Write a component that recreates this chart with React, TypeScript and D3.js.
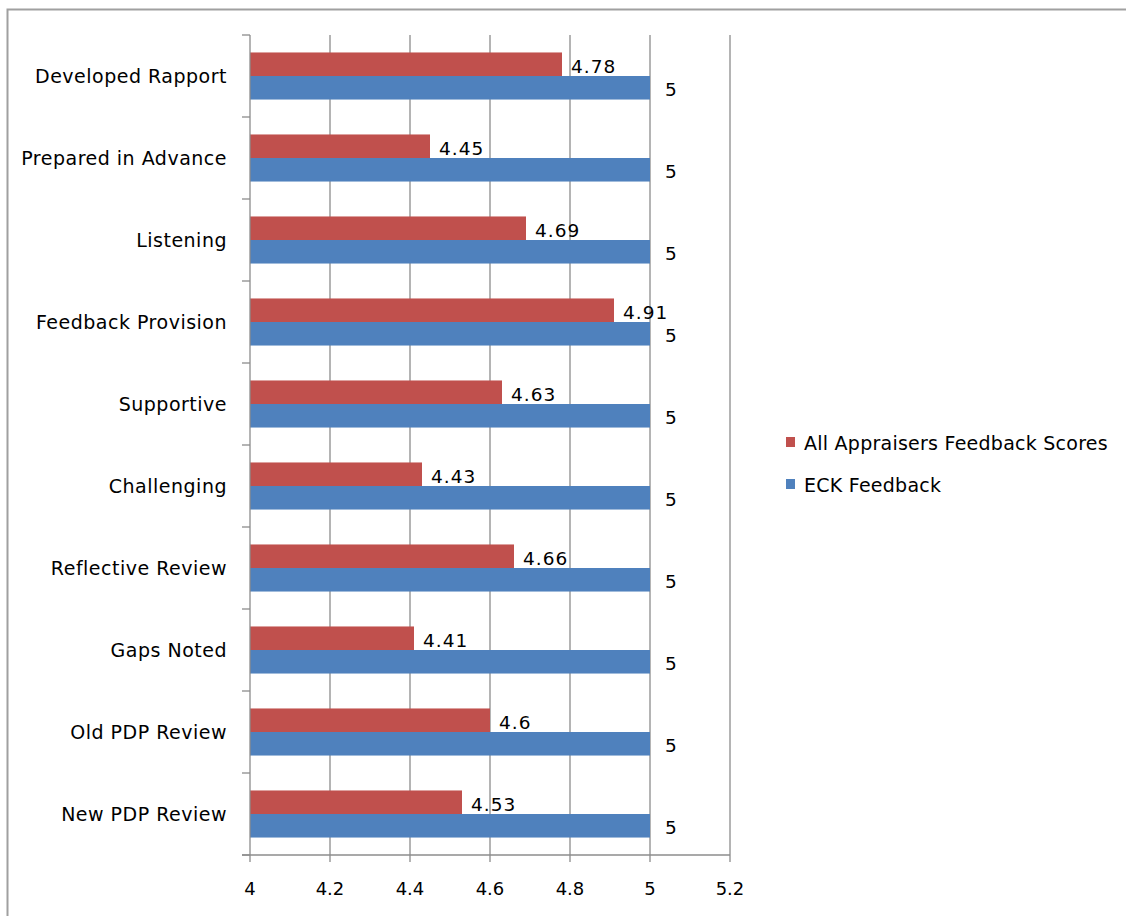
import React from "react";
import * as d3 from "d3";

const categories = [
  "Developed Rapport",
  "Prepared in Advance",
  "Listening",
  "Feedback Provision",
  "Supportive",
  "Challenging",
  "Reflective Review",
  "Gaps Noted",
  "Old PDP Review",
  "New PDP Review",
];
const appraiserScores = [4.78, 4.45, 4.69, 4.91, 4.63, 4.43, 4.66, 4.41, 4.6, 4.53];
const eckScores = [5, 5, 5, 5, 5, 5, 5, 5, 5, 5];
const xTicks = [4, 4.2, 4.4, 4.6, 4.8, 5, 5.2];
const seriesNames = ["All Appraisers Feedback Scores", "ECK Feedback"];
const seriesColors = ["#C0504D", "#4F81BD"];

const W = 1126;
const H = 916;
const FONT = "'DejaVu Sans', sans-serif";

export default function App() {
  const x = d3.scaleLinear().domain([4, 5.2]).range([250, 730]);
  const y = d3.scaleBand<string>().domain(categories).range([35, 855]);
  const band = y.bandwidth();
  const barH = band * 0.287;
  const groupTop = (band - barH * 2) / 2;
  const fmt = (v: number) => String(v);

  return (
    <svg
      width={W}
      height={H}
      style={{ position: "absolute", left: 0, top: 0, background: "#fff" }}
      fontFamily={FONT}
    >
      <rect x={7.5} y={9.5} width={W + 20} height={H + 20} fill="#fff" stroke="#A0A0A0" strokeWidth={2} />

      {/* vertical gridlines */}
      {xTicks.slice(1).map((t) => (
        <line key={"g" + t} x1={x(t)} x2={x(t)} y1={35} y2={862} stroke="#8C8C8C" strokeWidth={1.3} />
      ))}

      {/* bars */}
      {categories.map((c, i) => {
        const top = (y(c) as number) + groupTop;
        return (
          <g key={c}>
            <rect x={x(4)} y={top} width={x(appraiserScores[i]) - x(4)} height={barH} fill={seriesColors[0]} />
            <rect x={x(4)} y={top + barH} width={x(eckScores[i]) - x(4)} height={barH} fill={seriesColors[1]} />
            <text
              x={x(appraiserScores[i]) + 9}
              y={top + barH / 2 + 9}
              fontSize={18.5}
              letterSpacing={1}
              fill="#000"
            >
              {fmt(appraiserScores[i])}
            </text>
            <text x={x(eckScores[i]) + 15} y={top + barH * 1.5 + 8} fontSize={18.5} fill="#000">
              {fmt(eckScores[i])}
            </text>
          </g>
        );
      })}

      {/* category axis */}
      <line x1={x(4)} x2={x(4)} y1={35} y2={862} stroke="#8C8C8C" strokeWidth={1.3} />
      {d3.range(categories.length + 1).map((k) => {
        const yy = 35 + k * band;
        return <line key={"yt" + k} x1={242} x2={x(4)} y1={yy} y2={yy} stroke="#8C8C8C" strokeWidth={1.3} />;
      })}
      {categories.map((c) => (
        <text
          key={"l" + c}
          x={227}
          y={(y(c) as number) + band / 2 + 7}
          textAnchor="end"
          fontSize={19}
          letterSpacing={0.5}
          fill="#000"
        >
          {c}
        </text>
      ))}

      {/* value axis */}
      <line x1={242} x2={x(5.2)} y1={855} y2={855} stroke="#8C8C8C" strokeWidth={1.3} />
      {xTicks.map((t) => (
        <text key={"xt" + t} x={x(t)} y={895} textAnchor="middle" fontSize={18} fill="#000">
          {fmt(t)}
        </text>
      ))}

      {/* legend */}
      {seriesNames.map((n, i) => (
        <g key={n}>
          <rect x={786} y={437 + i * 42} width={9} height={10} fill={seriesColors[i]} />
          <text x={804} y={450 + i * 42} fontSize={19} letterSpacing={0.25} fill="#000">
            {n}
          </text>
        </g>
      ))}
    </svg>
  );
}
